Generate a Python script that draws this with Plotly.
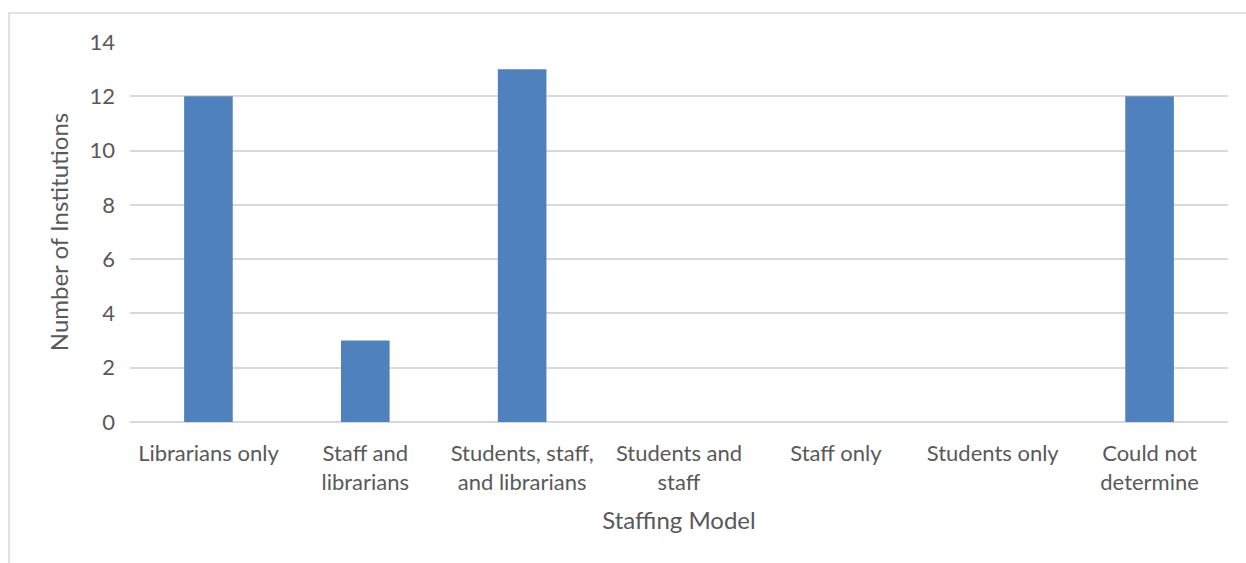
import plotly.graph_objects as go

categories = ["Librarians only", "Staff and<br>librarians", "Students, staff,<br>and librarians",
              "Students and<br>staff", "Staff only", "Students only", "Could not<br>determine"]
values = [12, 3, 13, 0, 0, 0, 12]
y_ticks = [0, 2, 4, 6, 8, 10, 12, 14]

W, H = 1246, 563
L, R, T, B = 130, 18, 42, 141

fig = go.Figure(go.Bar(x=categories, y=values, marker=dict(color="#4F81BD", line=dict(width=0))))

pw = W - L - R
ph = H - T - B
x0 = (9 - L) / pw
y1 = 1 + (T - 13) / ph

fig.update_layout(
    width=W, height=H,
    margin=dict(l=L, r=R, t=T, b=B, pad=0),
    paper_bgcolor="white", plot_bgcolor="white",
    bargap=0.69,
    font=dict(family="Lato, Open Sans, sans-serif", size=22, color="#595959"),
    showlegend=False,
    xaxis=dict(title=dict(text="Staffing Model", font=dict(size=24), standoff=18),
               showgrid=False, showline=False, ticks="", tickfont=dict(size=22),
               ticklabelstandoff=16),
    yaxis=dict(title=dict(text="Number of Institutions", font=dict(size=24), standoff=14),
               range=[0, 14], tickvals=y_ticks, showgrid=True, gridcolor="#D9D9D9", gridwidth=1.5,
               zeroline=True, zerolinecolor="#D9D9D9", zerolinewidth=1.5, ticks="", showline=False,
               tickfont=dict(size=22), ticklabelstandoff=14),
    shapes=[dict(type="rect", xref="paper", yref="paper", x0=x0, x1=1.2, y0=-0.6, y1=y1,
                 line=dict(color="#D9D9D9", width=1.5), layer="below")],
)

fig.write_html("out.html", config={"displayModeBar": False},
               post_script="document.body.style.margin='0';document.body.style.padding='0';")
